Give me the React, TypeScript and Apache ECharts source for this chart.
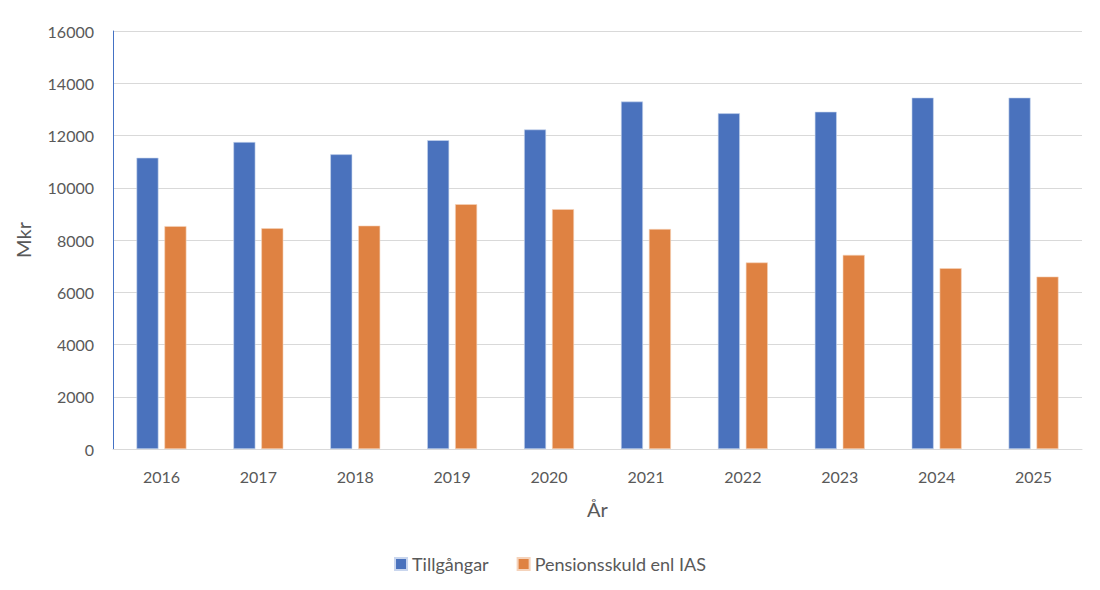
import React, { useEffect, useRef } from "react";
import * as echarts from "echarts";

const years = ["2016", "2017", "2018", "2019", "2020", "2021", "2022", "2023", "2024", "2025"];
const tillgangar = [11150, 11750, 11280, 11820, 12230, 13300, 12850, 12910, 13450, 13450];
const pensionsskuld = [8530, 8450, 8550, 9370, 9180, 8420, 7140, 7430, 6920, 6600];

const FONT = "Lato, 'Open Sans', sans-serif";
const TEXT = "#595959";

export default function App() {
  const ref = useRef<HTMLDivElement>(null);
  useEffect(() => {
    if (!ref.current) return;
    const chart = echarts.init(ref.current, null, { renderer: "svg" });
    chart.setOption({
      animation: false,
      textStyle: { fontFamily: FONT },
      grid: { left: 113, right: 18, top: 31, bottom: 141 },
      legend: {
        bottom: 12,
        left: "center",
        itemWidth: 12,
        itemHeight: 12,
        itemGap: 28,
        icon: "rect",
        textStyle: { color: TEXT, fontSize: 18, fontFamily: FONT },
        data: ["Tillgångar", "Pensionsskuld enl IAS"],
      },
      xAxis: {
        type: "category",
        data: years,
        name: "År",
        nameLocation: "middle",
        nameGap: 50,
        nameTextStyle: { color: TEXT, fontSize: 20, fontFamily: FONT },
        axisLine: { show: true, lineStyle: { color: "#d9d9d9" } },
        axisTick: { show: false },
        axisLabel: { color: TEXT, fontSize: 16, margin: 19, fontFamily: FONT },
      },
      yAxis: {
        type: "value",
        min: 0,
        max: 16000,
        interval: 2000,
        name: "Mkr",
        nameLocation: "middle",
        nameGap: 80,
        nameTextStyle: { color: TEXT, fontSize: 20, fontFamily: FONT },
        axisLine: { show: true, lineStyle: { color: "#4472c4", width: 1 } },
        axisTick: { show: false },
        axisLabel: {
          color: TEXT,
          fontSize: 16,
          margin: 19,
          fontFamily: FONT,
          formatter: (v: number) => String(v),
        },
        splitLine: { lineStyle: { color: "#d9d9d9", width: 1 } },
      },
      series: [
        {
          name: "Tillgångar",
          type: "bar",
          data: tillgangar,
          barWidth: 22,
          barGap: "27%",
          itemStyle: { color: "#4a72bd", borderColor: "#c9d6ee", borderWidth: 0.6 },
        },
        {
          name: "Pensionsskuld enl IAS",
          type: "bar",
          data: pensionsskuld,
          barWidth: 22,
          barGap: "27%",
          itemStyle: { color: "#df8242", borderColor: "#f5d3bb", borderWidth: 0.6 },
        },
      ],
    });
    return () => chart.dispose();
  }, []);
  return (
    <div
      ref={ref}
      style={{ position: "absolute", left: 0, top: 0, width: 1100, height: 590, background: "#fff" }}
    />
  );
}
